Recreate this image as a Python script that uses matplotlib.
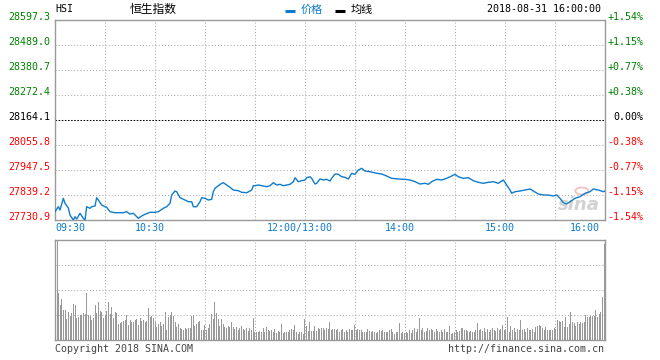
import numpy as np
import matplotlib
matplotlib.use("Agg")
import matplotlib.pyplot as plt
import matplotlib.transforms as mtransforms
from matplotlib.lines import Line2D
from matplotlib.patches import Ellipse

plt.rcParams['font.family'] = ['DejaVu Sans Mono', 'Noto Sans CJK SC']

# ---- data ----
symbol = "HSI"
name = "恒生指数"
stamp = "2018-08-31 16:00:00"
prev_close = 28164.1
price_levels = [28597.3, 28489.0, 28380.7, 28272.4, 28164.1,
                28055.8, 27947.5, 27839.2, 27730.9]

times = [
    "09:30", "09:32", "09:33", "09:35", "09:36", "09:38", "09:39", "09:41", "09:42", "09:43",
    "09:45", "09:47", "09:48", "09:49", "09:51", "09:52", "09:54", "09:55", "09:56", "09:58",
    "10:00", "10:01", "10:03", "10:06", "10:11", "10:13", "10:15", "10:17", "10:19", "10:20",
    "10:22", "10:24", "10:27", "10:30", "10:32", "10:35", "10:37", "10:39", "10:40", "10:42",
    "10:43", "10:45", "10:48", "10:50", "10:52", "10:53", "10:55", "10:57", "10:58", "11:00",
    "11:02", "11:04", "11:05", "11:06", "11:08", "11:10", "11:11", "11:13", "11:15", "11:17",
    "11:20", "11:22", "11:25", "11:27", "11:28", "11:29", "11:30", "11:32", "11:34", "11:37",
    "11:39", "11:41", "11:43", "11:45", "11:47", "11:49", "11:51", "11:53", "11:54", "11:56",
    "11:58", "12:00", "13:01", "13:03", "13:04", "13:06", "13:07", "13:09", "13:11", "13:13",
    "13:15", "13:16", "13:18", "13:20", "13:22", "13:24", "13:26", "13:28", "13:30", "13:32",
    "13:34", "13:36", "13:39", "13:43", "13:46", "13:49", "13:52", "13:56", "14:00", "14:03",
    "14:06", "14:09", "14:12", "14:14", "14:16", "14:19", "14:22", "14:25", "14:28", "14:30",
    "14:32", "14:35", "14:38", "14:41", "14:44", "14:47", "14:50", "14:53", "14:56", "14:59",
    "15:01", "15:03", "15:04", "15:06", "15:09", "15:12", "15:15", "15:17", "15:20", "15:23",
    "15:26", "15:29", "15:31", "15:33", "15:35", "15:37", "15:39", "15:42", "15:45", "15:48",
    "15:51", "15:53", "15:56", "15:59", "16:00",
]
prices = [
    27766.8, 27788.5, 27774.2, 27824.9, 27803.2, 27782.8, 27752.5, 27730.9, 27745.2, 27735.2,
    27759.9, 27738.2, 27730.9, 27788.5, 27781.5, 27788.5, 27791.5, 27827.5, 27817.5, 27795.8,
    27788.5, 27785.9, 27766.8, 27762.5, 27762.5, 27766.8, 27756.9, 27759.9, 27745.2, 27738.2,
    27748.2, 27755.6, 27764.2, 27764.2, 27766.8, 27781.5, 27788.5, 27803.2, 27839.2, 27856.5,
    27853.5, 27827.5, 27817.5, 27810.1, 27810.1, 27788.5, 27788.5, 27810.1, 27827.5, 27824.9,
    27817.5, 27820.5, 27853.5, 27868.2, 27879.4, 27889.8, 27892.4, 27882.5, 27872.5, 27860.8,
    27857.8, 27850.9, 27849.1, 27856.5, 27860.8, 27879.4, 27879.4, 27882.5, 27879.4, 27875.2,
    27879.4, 27892.4, 27882.5, 27885.5, 27879.4, 27882.5, 27885.5, 27896.8, 27914.1, 27896.8,
    27901.1, 27904.2, 27914.1, 27918.4, 27911.5, 27886.8, 27889.9, 27908.5, 27904.2, 27907.2,
    27899.8, 27911.5, 27930.1, 27928.8, 27918.4, 27915.8, 27908.5, 27933.2, 27928.8, 27947.5,
    27954.8, 27943.1, 27940.1, 27933.2, 27930.1, 27921.5, 27911.5, 27908.5, 27907.2, 27904.2,
    27896.8, 27886.8, 27889.9, 27885.5, 27896.8, 27907.2, 27904.2, 27911.5, 27921.5, 27928.8,
    27918.4, 27911.5, 27914.1, 27901.1, 27894.2, 27889.9, 27894.2, 27896.8, 27889.9, 27904.2,
    27882.5, 27860.8, 27846.5, 27853.5, 27856.5, 27860.8, 27865.2, 27856.5, 27843.5, 27839.2,
    27839.2, 27834.9, 27839.2, 27824.9, 27805.8, 27800.2, 27810.1, 27824.9, 27831.8, 27846.5,
    27853.5, 27865.2, 27860.8, 27853.5, 27857.0,
]

# per-minute volume (relative units, 100 = top of the panel)
volumes = [
    100, 46.7, 35, 41, 30, 30, 21, 27.7, 24, 26.7, 36, 35, 21.7, 23.3, 25, 25, 26.7, 25.7,
    46.7, 25, 24, 20, 21.7, 35, 26.7, 38.3, 29, 27.7, 22.3, 25, 29, 38.3, 25.7, 33.3, 22.3,
    28.3, 26.7, 15.7, 16.7, 17.7, 19, 20, 25, 15, 20, 18.3, 17.7, 20, 21, 15, 21.7, 19, 20,
    18.3, 19, 32.3, 23.3, 24, 21.7, 17.7, 13.3, 15.7, 17.7, 14.3, 15.7, 28.3, 10, 23.3, 25,
    27.7, 24, 17.7, 13.3, 15.7, 12.3, 11, 10, 11.7, 11, 11.7, 12.3, 24.3, 25, 14.3, 15.7,
    17.7, 19, 10, 10, 15, 10, 12.3, 15.7, 25.7, 21, 38.3, 26.7, 21, 14.3, 21, 15.7, 13.3,
    11.7, 14.3, 13.3, 17.7, 13.3, 11, 13.3, 10, 12.3, 14.3, 11, 10, 11.7, 9, 12.3, 10, 22.3,
    8.3, 8.3, 8.3, 9, 8.3, 12.3, 8.3, 13.3, 10, 9, 10, 8.3, 11, 6.7, 9, 7.7, 15.7, 6.7, 7.7,
    7.7, 8.3, 10, 11, 10, 15, 7.7, 5.7, 7.7, 8.3, 5.7, 21, 14.3, 9, 18.3, 9, 9, 14.3, 9,
    12.3, 11, 11.7, 12.3, 10, 11.7, 11,
    17.7, 10, 11, 11, 10, 11, 8.3, 10, 11, 8.3, 10, 8.3, 11, 10, 10, 15, 10, 11, 10, 10, 7.7,
    8.3, 8.3, 11, 9, 8.3, 9, 7.7, 6.7, 8.3, 10, 9, 10, 7.7, 8.3, 7.7, 10, 11, 8.3, 5.7, 8.3,
    8.3, 17.3, 6.7, 7.7, 6.7, 8.3, 6.7, 10, 6.7, 10, 12.3, 7.7, 11, 21.7, 10, 11.7, 7.7, 9,
    11.7, 10, 11, 10, 8.3, 11, 9, 8.3, 10, 7.7, 11, 8.3, 8.3, 14.3, 5.7, 6.7, 8.3, 10, 8.3,
    9, 11.7, 12.3, 10, 10, 9, 8.3, 9, 8.3, 8.3, 10, 16.7, 10, 11, 9, 12.3, 8.3, 11, 8.3, 10,
    12.3, 10, 9, 12.3, 10, 11, 15, 10, 11, 23.3, 8.3, 14.3, 10, 11.7, 8.3, 11, 10, 20, 10,
    11, 8.3, 11.7, 10, 10, 11, 8.3, 13.3, 14.3, 15, 14.3, 12.3, 10, 13.3, 10, 10, 10, 10,
    11.7, 11, 20, 19, 18.3, 19, 13.3, 23.3, 13.3, 15.7, 27.7, 17.7, 16.7, 14.3, 17.7, 15.7,
    17.7, 16.7, 17.7, 25, 23.3, 23.3, 24.3, 24.3, 24.3, 30, 23.3, 25.7, 28.3, 43.3, 95.7,
]

tick_times = ["09:30", "10:30", "12:00", "14:00", "15:00", "16:00"]
tick_labels = ["09:30", "10:30", "12:00/13:00", "14:00", "15:00", "16:00"]


def session_minute(t):
    h, m = map(int, t.split(":"))
    mins = h * 60 + m
    if mins <= 12 * 60:
        return mins - (9 * 60 + 30)
    return mins - 13 * 60 + 150


BLUE = '#0f7bcc'
GRID = '#aaaaaa'
FRAME = '#999999'
W, H = 660, 360

fig = plt.figure(figsize=(W / 100, H / 100), dpi=100)
ax = fig.add_axes([55 / W, 140 / H, 550 / W, 200 / H])
axv = fig.add_axes([55 / W, 20 / H, 550 / W, 100 / H])

total = session_minute("16:00")
grid_x = np.arange(30, total, 30)

for a in (ax, axv):
    a.set_xlim(0, total)
    for s in a.spines.values():
        s.set_color(FRAME)
        s.set_linewidth(1.0)
    for g in grid_x:
        a.axvline(g, color=GRID, lw=0.75, ls=(0, (1, 2)), zorder=1)

# ---- price panel ----
ax.set_ylim(price_levels[-1], price_levels[0])
for lv in price_levels[1:-1]:
    if lv == prev_close:
        ax.axhline(lv, color='black', lw=0.75, ls=(0, (1.5, 1.5)), zorder=1)
    else:
        ax.axhline(lv, color=GRID, lw=0.75, ls=(0, (1, 2)), zorder=1)

x = [session_minute(t) for t in times]
ax.plot(x, prices, color=BLUE, lw=1.0, zorder=3)

def level_color(v):
    if v > prev_close + 0.01:
        return '#008000'
    if v < prev_close - 0.01:
        return '#ff0000'
    return 'black'

def pct_text(v):
    p = (v - prev_close) / prev_close * 100
    if abs(p) < 0.005:
        return "0.00%"
    return f"{p:+.2f}%"

ax.set_xticks([])
ax.set_yticks(price_levels)
ax.set_yticklabels([f"{v:.1f}" for v in price_levels])
ax.tick_params(axis='y', length=0, pad=3.5, labelsize=7.2)
for lab, v in zip(ax.get_yticklabels(), price_levels):
    lab.set_color(level_color(v))
    lab.set_va('baseline')

ax2 = ax.twinx()
ax2.set_ylim(ax.get_ylim())
ax2.set_yticks(price_levels)
ax2.set_yticklabels([pct_text(v) for v in price_levels])
ax2.tick_params(axis='y', length=0, pad=27.5, labelsize=7.2)
for lab, v in zip(ax2.get_yticklabels(), price_levels):
    lab.set_color(level_color(v))
    lab.set_va('baseline')
    lab.set_ha('right')
for s in ax2.spines.values():
    s.set_visible(False)

# time labels under the price panel
base = mtransforms.blended_transform_factory(ax.transData, ax.transAxes)
for t, lab in zip(tick_times, tick_labels):
    pos = session_minute(t)
    if pos == 0:
        ha, dx = 'left', 0
    elif pos == total:
        ha, dx = 'right', -5
    else:
        ha, dx = 'center', -5
    tr = mtransforms.offset_copy(base, fig=fig, x=dx, y=-3, units='dots')
    ax.text(pos, 0, lab, transform=tr, ha=ha, va='top', fontsize=7.2, color=BLUE)

# sina watermark
ax.text(0.953, 0.075, 'sina', transform=ax.transAxes, ha='center', va='center',
        fontsize=13, fontweight='bold', style='italic', color='#d2d2d2',
        family='DejaVu Sans', zorder=2)
ax.add_patch(Ellipse((0.958, 0.145), 0.024, 0.035, transform=ax.transAxes,
                     facecolor='none', edgecolor='#f4c0c0', lw=1.3, zorder=2))

# ---- volume panel ----
xv = np.linspace(0.9, total - 0.9, len(volumes))
axv.set_ylim(0, max(volumes))
for frac in (0.25, 0.5, 0.75):
    axv.axhline(max(volumes) * frac, color=GRID, lw=0.75, ls=(0, (1, 2)), zorder=1)
axv.vlines(xv, 0, volumes, color=FRAME, lw=0.5, antialiased=False, zorder=2)
axv.set_xticks([])
axv.set_yticks([])

# ---- header / footer ----
def fx(px):
    return px / W

def fy(py):
    return 1 - py / H

fig.text(fx(55), fy(9.5), symbol, ha='left', va='center', fontsize=7.2)
fig.text(fx(153.5), fy(9.5), name, ha='center', va='center', fontsize=8.5,
         family='Noto Sans CJK SC')
fig.add_artist(Line2D([fx(285), fx(295)], [fy(11), fy(11)], color=BLUE, lw=2.2,
                      solid_capstyle='butt'))
fig.text(fx(301), fy(9.5), "价格", ha='left', va='center', fontsize=8,
         color=BLUE, family='Noto Sans CJK SC')
fig.add_artist(Line2D([fx(335), fx(345)], [fy(11), fy(11)], color='black', lw=2.2,
                      solid_capstyle='butt'))
fig.text(fx(351), fy(9.5), "均线", ha='left', va='center', fontsize=8,
         color='black', family='Noto Sans CJK SC')
fig.text(fx(601), fy(9), stamp, ha='right', va='center', fontsize=7.2)

fig.text(fx(55), fy(349.5), "Copyright 2018 SINA.COM", ha='left', va='center',
         fontsize=7.2, color='#444444')
fig.text(fx(604), fy(349.5), "http://finance.sina.com.cn", ha='right', va='center',
         fontsize=7.2, color='#444444')

fig.savefig("out.png", dpi=100)
